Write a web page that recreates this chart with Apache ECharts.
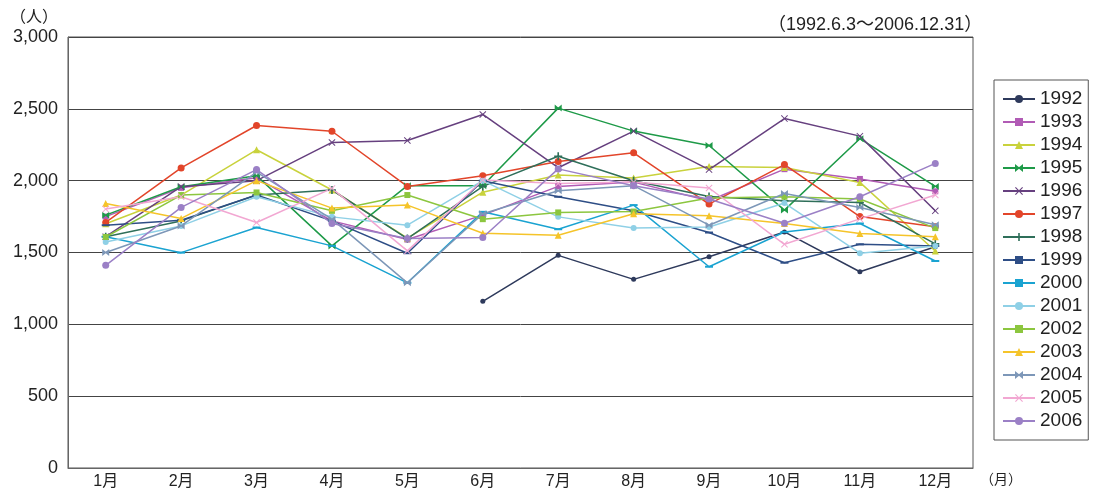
<!DOCTYPE html>
<html><head><meta charset="utf-8">
<script src="https://cdn.jsdelivr.net/npm/echarts@6/dist/echarts.min.js"></script>
<style>html,body{margin:0;padding:0;background:#fff}#c{width:1098px;height:493px}</style>
</head><body><div id="c"></div>
<script>
const months = ['1月','2月','3月','4月','5月','6月','7月','8月','9月','10月','11月','12月'];
const years = ['1992','1993','1994','1995','1996','1997','1998','1999','2000','2001','2002','2003','2004','2005','2006'];
const v1992 = [null,null,null,null,null,1160,1480,1313,1471,1643,1366,1540];
const v1993 = [1750,1950,2020,1720,1590,1760,1960,1990,1860,2080,2012,1926];
const v1994 = [1700,1900,2215,1935,1600,1920,2040,2019,2098,2091,1988,1510];
const v1995 = [1760,1958,2035,1546,1965,1965,2505,2345,2245,1795,2292,1960];
const v1996 = [1610,1958,2000,2266,2280,2461,2090,2345,2077,2432,2310,1790];
const v1997 = [1709,2089,2384,2344,1960,2035,2133,2194,1837,2112,1750,1680];
const v1998 = [1610,1720,1900,1935,1597,1960,2170,2000,1890,1860,1848,1560];
const v1999 = [1690,1725,1900,1720,1495,2000,1888,1790,1639,1429,1557,1545];
const v2000 = [1610,1499,1674,1546,1289,1783,1662,1830,1401,1643,1702,1441];
const v2001 = [1573,1685,1888,1748,1690,2000,1748,1670,1678,1844,1495,1545];
const v2002 = [1608,1900,1918,1790,1900,1732,1779,1785,1879,1888,1872,1670];
const v2003 = [1841,1737,2000,1809,1830,1634,1620,1770,1755,1702,1632,1610];
const v2004 = [1500,1685,2060,1732,1289,1770,1930,1965,1690,1911,1813,1693];
const v2005 = [1802,1888,1709,1946,1511,2005,1980,1990,1949,1557,1734,1900];
const v2006 = [1411,1814,2077,1702,1597,1604,2082,1965,1872,1704,1888,2120];
const yTicks = [0,500,1000,1500,2000,2500,3000];

const values = [v1992,v1993,v1994,v1995,v1996,v1997,v1998,v1999,v2000,v2001,v2002,v2003,v2004,v2005,v2006];
const colors = ['#2e3a5c','#b15bb5','#c9d23c','#1e9a48','#66407f','#e2452a','#2f6f5a','#2e4e86','#1aa3d1','#8fd0e6','#8cc63f','#f5c42a','#7d97b8','#f2a7d2','#9b80c6'];
const XP = 'path://M0,1L1,0L5,4L9,0L10,1L6,5L10,9L9,10L5,6L1,10L0,9L4,5Z';
const BOW = 'path://M0,0L5,4L10,0L10,10L5,6L0,10Z';
const PLUS = 'path://M4,0L6,0L6,4L10,4L10,6L6,6L6,10L4,10L4,6L0,6L0,4L4,4Z';
const symbols = ['circle','rect','triangle',BOW,XP,'circle',PLUS,'rect','rect','circle','rect','triangle',BOW,XP,'circle'];
const sizes = [5,6,7,7,7,7,8,[8,2],[8,2],6,6,7,7,7,7];
const FONT = '"Liberation Sans","Noto Sans CJK JP",sans-serif';

const chart = echarts.init(document.getElementById('c'));
chart.setOption({
  animation:false,
  textStyle:{fontFamily:FONT},
  color:colors,
  grid:{left:68,right:125,top:37,bottom:25,show:true,borderColor:'#555',borderWidth:1,backgroundColor:'transparent'},
  legend:{
    orient:'vertical',left:994,top:80,width:100,
    data:years,
    itemWidth:32,itemHeight:10,itemGap:3,
    padding:[9,6,9,8],
    borderColor:'#555',borderWidth:1,
    textStyle:{fontSize:19,lineHeight:20,color:'#222',fontFamily:FONT}
  },
  xAxis:{
    type:'category',data:months,boundaryGap:true,
    axisLine:{lineStyle:{color:'#666',width:1}},
    axisTick:{inside:true,length:7,interval:0,lineStyle:{color:'#555'}},
    axisLabel:{fontSize:16,color:'#222',margin:6,interval:0,fontFamily:FONT},
    splitLine:{show:false}
  },
  yAxis:{
    type:'value',min:yTicks[0],max:yTicks[yTicks.length-1],interval:500,
    axisLine:{show:true,lineStyle:{color:'#666'}},
    axisTick:{show:false},
    axisLabel:{fontSize:18,color:'#222',margin:10,fontFamily:FONT,
      formatter:function(v){return v.toLocaleString('en-US');}},
    splitLine:{lineStyle:{color:'#444',width:1}}
  },
  graphic:[
    {type:'text',left:10,top:10,style:{text:'（人）',fontSize:16,fill:'#222',fontFamily:FONT}},
    {type:'text',left:768,top:16,style:{text:'（1992.6.3〜2006.12.31）',fontSize:18,fill:'#222',fontFamily:FONT}},
    {type:'text',left:980,top:473,style:{text:'（月）',fontSize:14,fill:'#222',fontFamily:FONT}}
  ],
  series: years.map(function(y,i){
    return {
      name:y,type:'line',data:values[i],
      symbol:symbols[i],symbolSize:sizes[i],showAllSymbol:true,
      lineStyle:{width:1.5,color:colors[i]},
      itemStyle:{color:colors[i]},
      connectNulls:false
    };
  })
});
</script></body></html>
